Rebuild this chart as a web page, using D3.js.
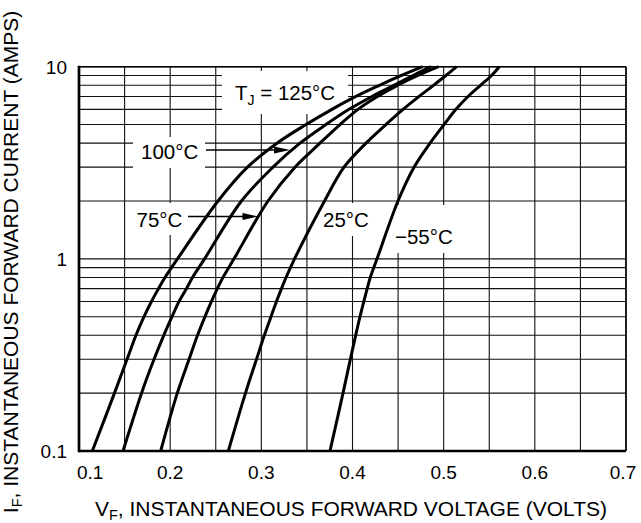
<!DOCTYPE html>
<html>
<head>
<meta charset="utf-8">
<script src="https://cdn.jsdelivr.net/npm/d3@7"></script>
<style>
  body { margin: 0; background: #fff; }
  text { font-family: "Liberation Sans", Arial, Helvetica, sans-serif; fill: #000; }
</style>
</head>
<body>
<svg id="chart" width="641" height="523" viewBox="0 0 641 523"></svg>
<script>
// instantaneous current (A) and the forward voltage (V) at that current
const currentAmps = [0.1, 0.2, 0.3, 0.4, 0.5, 0.6, 0.7, 0.8, 1, 2, 3, 4, 5, 6, 7, 8, 9, 10];
const vf125 = [0.1146, 0.1389, 0.1527, 0.1625, 0.1713, 0.1795, 0.1872, 0.1943, 0.2080, 0.2525, 0.2848, 0.3172, 0.3490, 0.3775, 0.4038, 0.4296, 0.4537, 0.4769];
const vf100 = [0.1483, 0.1686, 0.1823, 0.1930, 0.2020, 0.2097, 0.2179, 0.2245, 0.2377, 0.2782, 0.3128, 0.3424, 0.3709, 0.3962, 0.4214, 0.4455, 0.4664, 0.4861];
const vf75 = [0.1896, 0.2078, 0.2207, 0.2300, 0.2382, 0.2453, 0.2517, 0.2579, 0.2700, 0.3073, 0.3369, 0.3643, 0.3863, 0.4060, 0.4274, 0.4494, 0.4718, 0.4943];
const vf25 = [0.2638, 0.2826, 0.2947, 0.3033, 0.3106, 0.3166, 0.3221, 0.3271, 0.3364, 0.3693, 0.3907, 0.4148, 0.4367, 0.4554, 0.4729, 0.4888, 0.5025, 0.5143];
const vfMinus55 = [0.3753, 0.3896, 0.3976, 0.4035, 0.4082, 0.4124, 0.4161, 0.4195, 0.4269, 0.4499, 0.4675, 0.4850, 0.5004, 0.5135, 0.5267, 0.5404, 0.5525, 0.5610];

const xTickValues = [0.1, 0.2, 0.3, 0.4, 0.5, 0.6, 0.7];
const yTickValues = [0.1, 1, 10];
const yTickLabels = ["0.1", "1", "10"];

const svg = d3.select("#chart");
const plotLeft = 79, plotRight = 626, plotTop = 66.7, plotBottom = 451;

const x = d3.scaleLinear().domain([0.1, 0.7]).range([plotLeft, plotRight]);
const y = d3.scaleLog().domain([0.1, 10]).range([plotBottom, plotTop]);

// grid
const grid = svg.append("g").attr("stroke", "#111").attr("stroke-width", 1.1);
grid.selectAll(".vg").data(x.ticks(12)).enter().append("line")
    .attr("x1", d => x(d)).attr("x2", d => x(d))
    .attr("y1", plotTop).attr("y2", plotBottom);
grid.selectAll(".hg").data(y.ticks()).enter().append("line")
    .attr("x1", plotLeft).attr("x2", plotRight)
    .attr("y1", d => y(d)).attr("y2", d => y(d));

// frame: heavy left and bottom edge
svg.append("line").attr("x1", plotLeft).attr("x2", plotRight).attr("y1", plotTop).attr("y2", plotTop)
    .attr("stroke", "#000").attr("stroke-width", 1.4);
svg.append("line").attr("x1", plotRight).attr("x2", plotRight).attr("y1", plotTop).attr("y2", plotBottom)
    .attr("stroke", "#000").attr("stroke-width", 1.5);
svg.append("line").attr("x1", plotLeft).attr("x2", plotLeft).attr("y1", plotTop - 1).attr("y2", plotBottom + 1.3)
    .attr("stroke", "#000").attr("stroke-width", 2.7);
svg.append("line").attr("x1", plotLeft).attr("x2", plotRight).attr("y1", plotBottom).attr("y2", plotBottom)
    .attr("stroke", "#000").attr("stroke-width", 2.7);

// white boxes behind the curve labels
const boxes = [[222, 71, 126, 43], [133, 137, 72, 31], [133, 203, 54, 32], [319, 203, 55, 33], [391, 205, 65, 48]];
svg.append("g").selectAll("rect").data(boxes).enter().append("rect")
    .attr("x", d => d[0]).attr("y", d => d[1]).attr("width", d => d[2]).attr("height", d => d[3])
    .attr("fill", "#fff");

// curves
const series = [vf125, vf100, vf75, vf25, vfMinus55];
const line = d3.line()
    .x(d => x(d[0]))
    .y(d => y(d[1]))
    .curve(d3.curveCatmullRom.alpha(0.5));
svg.append("g").selectAll("path")
    .data(series.map(vs => vs.map((v, i) => [v, currentAmps[i]])))
    .enter().append("path")
    .attr("d", line)
    .attr("fill", "none")
    .attr("stroke", "#000")
    .attr("stroke-width", 3)
    .attr("stroke-linecap", "butt");

// tick labels
svg.append("g").selectAll("text").data(xTickValues).enter().append("text")
    .attr("x", (d, i) => i === 0 ? x(d) - 2 : x(d) - (i === xTickValues.length - 1 ? 3 : 0))
    .attr("y", 479)
    .attr("text-anchor", (d, i) => i === 0 ? "start" : "middle")
    .attr("font-size", 19)
    .text(d => d.toFixed(1));
svg.append("g").selectAll("text").data(yTickValues).enter().append("text")
    .attr("x", 67)
    .attr("y", d => y(d))
    .attr("dy", "0.36em")
    .attr("text-anchor", "end")
    .attr("font-size", 19)
    .text((d, i) => yTickLabels[i]);

// curve labels
const lab = svg.append("g").attr("font-size", 20.5);
const tj = lab.append("text").attr("x", 235).attr("y", 100);
tj.append("tspan").text("T");
tj.append("tspan").attr("font-size", 14).attr("dy", 5).text("J");
tj.append("tspan").attr("dy", -5).text(" = 125°C");
lab.append("text").attr("x", 141).attr("y", 159).text("100°C");
lab.append("text").attr("x", 136.5).attr("y", 226.7).text("75°C");
lab.append("text").attr("x", 323).attr("y", 226.7).text("25°C");
lab.append("text").attr("x", 395).attr("y", 244).text("\u221255°C");

// leader arrows
const arrows = [[206, 150, 290, 150], [188, 216.5, 258.5, 216.5]];
arrows.forEach(a => {
    svg.append("line").attr("x1", a[0]).attr("y1", a[1]).attr("x2", a[2] - 10).attr("y2", a[3])
        .attr("stroke", "#000").attr("stroke-width", 1.3);
    svg.append("path")
        .attr("d", `M${a[2]},${a[3]} L${a[2] - 16},${a[3] - 3.5} L${a[2] - 16},${a[3] + 3.5} Z`)
        .attr("fill", "#000");
});

// axis titles
const xt = svg.append("text").attr("x", 351).attr("y", 516)
    .attr("text-anchor", "middle").attr("font-size", 21);
xt.append("tspan").text("V");
xt.append("tspan").attr("font-size", 14.5).attr("dy", 3.5).text("F");
xt.append("tspan").attr("dy", -3.5).text(", INSTANTANEOUS FORWARD VOLTAGE (VOLTS)");

const yt = svg.append("text")
    .attr("transform", "translate(18,262) rotate(-90)")
    .attr("text-anchor", "middle").attr("font-size", 21);
yt.append("tspan").text("I");
yt.append("tspan").attr("font-size", 14.5).attr("dy", 3.5).text("F");
yt.append("tspan").attr("dy", -3.5).text(", INSTANTANEOUS FORWARD CURRENT (AMPS)");
</script>
</body>
</html>
